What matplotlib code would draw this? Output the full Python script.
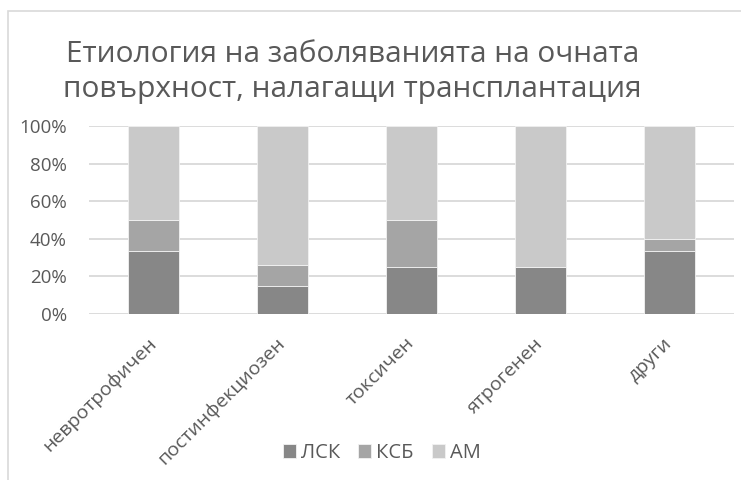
import numpy as np
import matplotlib.pyplot as plt
from matplotlib.patches import Rectangle
from matplotlib.ticker import PercentFormatter

plt.rcParams['font.family'] = ['Open Sans', 'DejaVu Sans']

# Share of each graft type per etiology (percent)
categories = ['невротрофичен', 'постинфекциозен', 'токсичен', 'ятрогенен', 'други']
lsk = [33.3, 14.8, 25.0, 25.0, 33.3]
ksb = [16.7, 11.1, 25.0, 0.0, 6.7]
am = [50.0, 74.1, 50.0, 75.0, 60.0]

series = [('ЛСК', lsk, '#878787'), ('КСБ', ksb, '#a5a5a5'), ('АМ', am, '#c9c9c9')]
text_color = '#595959'

fig = plt.figure(figsize=(7.41, 4.8), dpi=100)
ax = fig.add_axes([89 / 741, 1 - 314 / 480, (734 - 89) / 741, (314 - 126) / 480])

# chart area frame (only left and top edges are in view)
fig.add_artist(Rectangle((8 / 741, -0.1), 1.2, 1 - 11 / 480 + 0.1,
                         transform=fig.transFigure, fill=False,
                         edgecolor='#d9d9d9', linewidth=1.2))

x = np.arange(len(categories))
bottom = np.zeros(len(categories))
for name, vals, color in series:
    vals = np.array(vals)
    ax.bar(x, vals, width=0.4, bottom=bottom, color=color, label=name,
           edgecolor='#f2f2f2', linewidth=0.6, zorder=3)
    bottom += vals

ax.set_xlim(-0.5, len(categories) - 0.5)
ax.set_ylim(0, 100)
ax.set_yticks(np.arange(0, 101, 20))
ax.yaxis.set_major_formatter(PercentFormatter(decimals=0))
ax.grid(axis='y', color='#d9d9d9', linewidth=1.3, zorder=0)
for s in ax.spines.values():
    s.set_visible(False)
ax.tick_params(length=0, colors=text_color)
ax.tick_params(axis='y', labelsize=13.5, pad=16)

ax.set_xticks(x)
ax.set_xticklabels(categories, rotation=45, ha='right', va='center',
                   rotation_mode='anchor', fontsize=14)
ax.tick_params(axis='x', pad=19)

fig.text(0.476, 1 - 72 / 480, 'Етиология на заболяванията на очната\nповърхност, налагащи трансплантация',
         ha='center', va='center', fontsize=21.5, color=text_color, linespacing=1.3)

fig.legend(loc='center', bbox_to_anchor=(382 / 741, 1 - 453 / 480), ncol=3, frameon=False,
           fontsize=14.5, handlelength=0.65, handleheight=0.65, handletextpad=0.25,
           columnspacing=0.9, labelcolor=text_color)

fig.savefig('out.png', dpi=100)
